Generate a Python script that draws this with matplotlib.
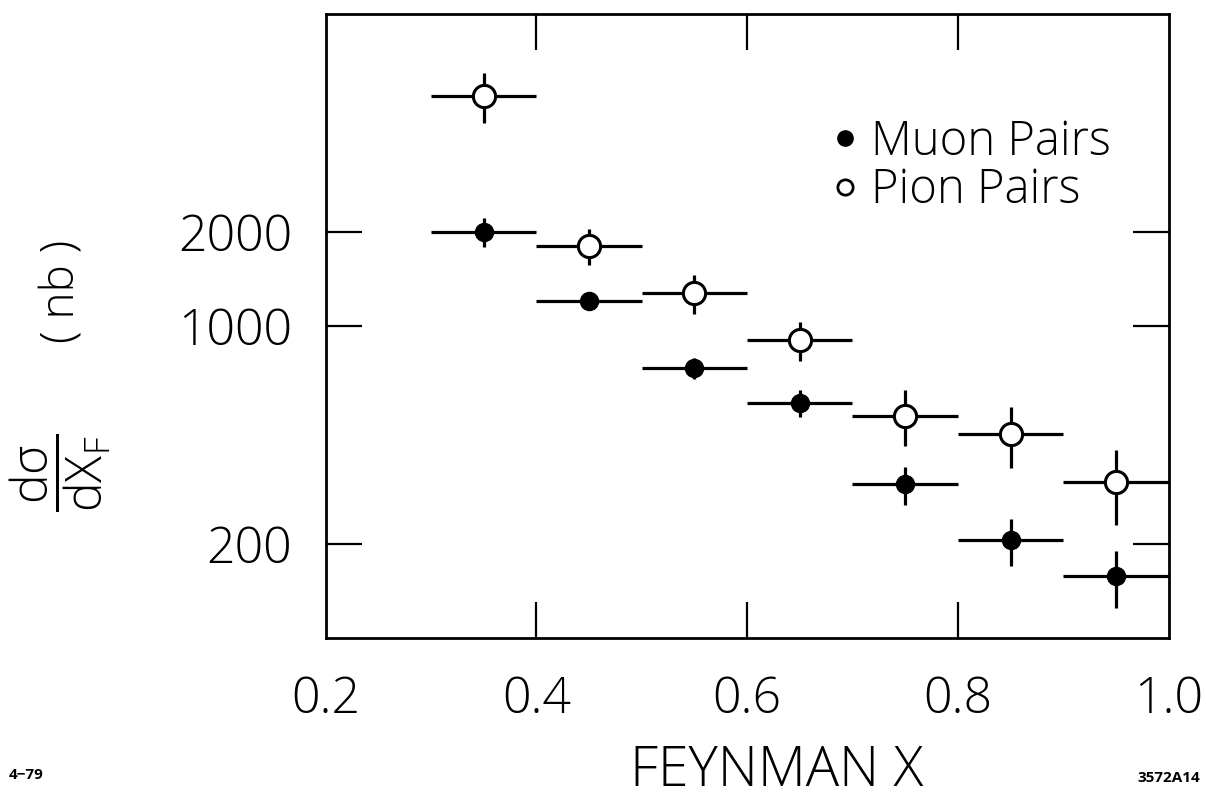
import numpy as np
import matplotlib
matplotlib.use('Agg')
import matplotlib.pyplot as plt
from matplotlib.lines import Line2D

plt.rcParams['font.family'] = ['Open Sans', 'DejaVu Sans']
plt.rcParams['font.weight'] = 'light'
plt.rcParams['mathtext.fontset'] = 'custom'
plt.rcParams['mathtext.rm'] = 'Open Sans'
plt.rcParams['mathtext.it'] = 'Open Sans'

## values
xf = [0.35, 0.45, 0.55, 0.65, 0.75, 0.85, 0.95]
bin_half = [0.05, 0.05, 0.05, 0.05, 0.05, 0.05, 0.05]
muon = [2000, 1200, 730, 565, 310, 205, 157]
muon_err = [210, 80, 55, 57, 43, 35, 33]
pion = [5450, 1800, 1270, 900, 515, 450, 315]
pion_err = [1000, 240, 180, 130, 105, 100, 85]

xticks = [0.2, 0.4, 0.6, 0.8, 1.0]
xtick_labels = ['0.2', '0.4', '0.6', '0.8', '1.0']
yticks = [200, 1000, 2000]
ytick_labels = ['200', '1000', '2000']

fig = plt.figure(figsize=(12.06, 7.99), dpi=100)
ax = fig.add_axes([0.270, 0.202, 0.699, 0.781])

ax.errorbar(xf, muon, xerr=bin_half, yerr=muon_err, fmt='o', color='black',
            ms=13, elinewidth=2.3, capsize=0, zorder=3)
ax.errorbar(xf, pion, xerr=bin_half, yerr=pion_err, fmt='o', color='black',
            mfc='white', mec='black', mew=2.2, ms=16, elinewidth=2.3,
            capsize=0, zorder=3)

ax.set_yscale('log')
ax.set_xlim(0.2, 1.0)
ax.set_ylim(100, 10000)

ax.set_xticks(xticks)
ax.set_xticklabels(xtick_labels)
ax.set_yticks(yticks)
ax.set_yticklabels(ytick_labels)
ax.yaxis.set_minor_locator(matplotlib.ticker.NullLocator())
ax.tick_params(axis='both', direction='in', length=26, width=1.6,
               labelsize=36, top=True, right=True)
ax.tick_params(axis='x', pad=27)
ax.tick_params(axis='y', pad=24)
# no ticks at 0.2 and 1.0 (they sit on the frame anyway)
for t in ax.xaxis.get_major_ticks():
    if t.get_loc() in (0.2, 1.0):
        t.tick1line.set_visible(False)
        t.tick2line.set_visible(False)
for s in ax.spines.values():
    s.set_linewidth(2.0)

# legend
handles = [Line2D([], [], ls='', marker='o', color='black', ms=11),
           Line2D([], [], ls='', marker='o', mfc='white', mec='black', mew=2, ms=11)]
leg = ax.legend(handles, ['Muon Pairs', 'Pion Pairs'], loc='upper right',
                bbox_to_anchor=(0.982, 0.90), frameon=False, fontsize=34,
                handlelength=0.6, handletextpad=0.25, labelspacing=0.0)

fig.text(0.644, 0.035, 'FEYNMAN X', ha='center', va='center', fontsize=40)
fig.text(0.05, 0.408, r'$\dfrac{\mathregular{d\sigma}}{\mathregular{dX_F}}$',
         rotation=90, ha='center', va='center', fontsize=36)
fig.text(0.052, 0.635, '( nb )', rotation=90, ha='center', va='center',
         fontsize=33)
fig.text(0.007, 0.03, '4\u221279', ha='left', va='center', fontsize=11,
         fontweight='bold')
fig.text(0.995, 0.026, '3572A14', ha='right', va='center', fontsize=11,
         fontweight='bold')

fig.savefig('out.png', dpi=100)
